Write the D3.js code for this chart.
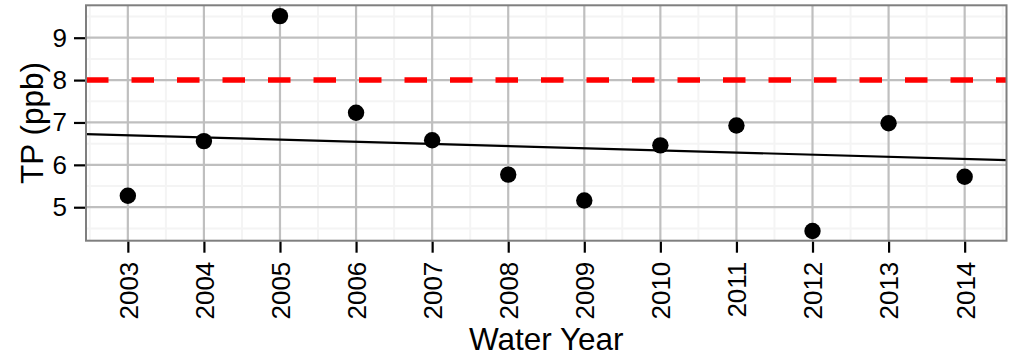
<!DOCTYPE html>
<html>
<head>
<meta charset="utf-8">
<script src="https://cdn.jsdelivr.net/npm/d3@7"></script>
<style>
  html, body { margin: 0; padding: 0; background: #fff; }
  svg { display: block; font-family: "Liberation Sans", Arial, Helvetica, sans-serif; }
</style>
</head>
<body>
<svg id="chart" width="1014" height="352"></svg>
<script>
// ---- data ----
const years = [2003, 2004, 2005, 2006, 2007, 2008, 2009, 2010, 2011, 2012, 2013, 2014];
const tp = [5.27, 6.56, 9.51, 7.23, 6.58, 5.77, 5.16, 6.46, 6.93, 4.44, 6.98, 5.72];
const yTicks = [5, 6, 7, 8, 9];
const target = 8;
const trendYears = [2002.45, 2014.55];
const trendTP = [6.725, 6.11];
const xLabel = "Water Year";
const yLabel = "TP (ppb)";

// ---- layout ----
const svg = d3.select("#chart");
const panel = { left: 86, right: 1006.5, top: 5.3, bottom: 240.7 };

const x = d3.scaleLinear().domain([2002.45, 2014.55]).range([panel.left, panel.right]);
const y = d3.scaleLinear().domain([4.21, 9.765]).range([panel.bottom, panel.top]);

const g = svg.append("g");

// minor grid
const xMinor = d3.range(2002.5, 2015, 1);
const yMinor = d3.range(4.5, 10, 1).filter(v => v >= 4.21 && v <= 9.765);
g.selectAll(".xminor").data(xMinor).enter().append("line")
  .attr("x1", d => x(d)).attr("x2", d => x(d))
  .attr("y1", panel.top).attr("y2", panel.bottom)
  .attr("stroke", "#f4f4f4").attr("stroke-width", 2);
g.selectAll(".yminor").data(yMinor).enter().append("line")
  .attr("x1", panel.left).attr("x2", panel.right)
  .attr("y1", d => y(d)).attr("y2", d => y(d))
  .attr("stroke", "#f4f4f4").attr("stroke-width", 2);

// major grid
g.selectAll(".xmajor").data(years).enter().append("line")
  .attr("x1", d => x(d)).attr("x2", d => x(d))
  .attr("y1", panel.top).attr("y2", panel.bottom)
  .attr("stroke", "#bfbfbf").attr("stroke-width", 2.2);
g.selectAll(".ymajor").data(yTicks).enter().append("line")
  .attr("x1", panel.left).attr("x2", panel.right)
  .attr("y1", d => y(d)).attr("y2", d => y(d))
  .attr("stroke", "#bfbfbf").attr("stroke-width", 2.2);

// target line
g.append("line")
  .attr("x1", panel.left).attr("x2", panel.right)
  .attr("y1", y(target)).attr("y2", y(target))
  .attr("stroke", "#ff0000").attr("stroke-width", 5.5)
  .attr("stroke-dasharray", "22.5,23");

// trend line
g.append("path")
  .datum(trendYears.map((d, i) => [d, trendTP[i]]))
  .attr("d", d3.line().x(d => x(d[0])).y(d => y(d[1])))
  .attr("fill", "none").attr("stroke", "#000").attr("stroke-width", 2.2);

// points
g.selectAll(".pt").data(years).enter().append("circle")
  .attr("cx", d => x(d)).attr("cy", (d, i) => y(tp[i]))
  .attr("r", 8.2).attr("fill", "#000");

// panel border
g.append("rect")
  .attr("x", panel.left).attr("y", panel.top)
  .attr("width", panel.right - panel.left).attr("height", panel.bottom - panel.top)
  .attr("fill", "none").attr("stroke", "#7f7f7f").attr("stroke-width", 2);

// axes
const xAxis = d3.axisBottom(x).tickValues(years).tickFormat(d3.format("d"))
  .tickSize(11).tickPadding(9);
const xg = svg.append("g").attr("transform", `translate(0,${panel.bottom + 1})`).call(xAxis);
xg.select(".domain").remove();
xg.selectAll(".tick line").attr("stroke", "#000").attr("stroke-width", 2.2);
xg.selectAll(".tick text")
  .attr("transform", "rotate(-90)")
  .attr("text-anchor", "end")
  .attr("x", -20).attr("y", 0).attr("dy", "0.36em")
  .attr("fill", "#000").style("font-size", "26px")
  .style("font-family", "'Liberation Sans', Arial, sans-serif");

const yAxis = d3.axisLeft(y).tickValues(yTicks).tickFormat(d3.format("d"))
  .tickSize(11).tickPadding(7);
const yg = svg.append("g").attr("transform", `translate(${panel.left - 1},0)`).call(yAxis);
yg.select(".domain").remove();
yg.selectAll(".tick line").attr("stroke", "#000").attr("stroke-width", 2.2);
yg.selectAll(".tick text").attr("fill", "#000").style("font-size", "26px")
  .style("font-family", "'Liberation Sans', Arial, sans-serif");

// axis titles
svg.append("text")
  .attr("x", (panel.left + panel.right) / 2).attr("y", 350)
  .attr("text-anchor", "middle").style("font-size", "31.5px").attr("fill", "#000")
  .text(xLabel);
svg.append("text")
  .attr("transform", `translate(43,${(panel.top + panel.bottom) / 2}) rotate(-90)`)
  .attr("text-anchor", "middle").style("font-size", "31.5px").attr("fill", "#000")
  .text(yLabel);
</script>
</body>
</html>
